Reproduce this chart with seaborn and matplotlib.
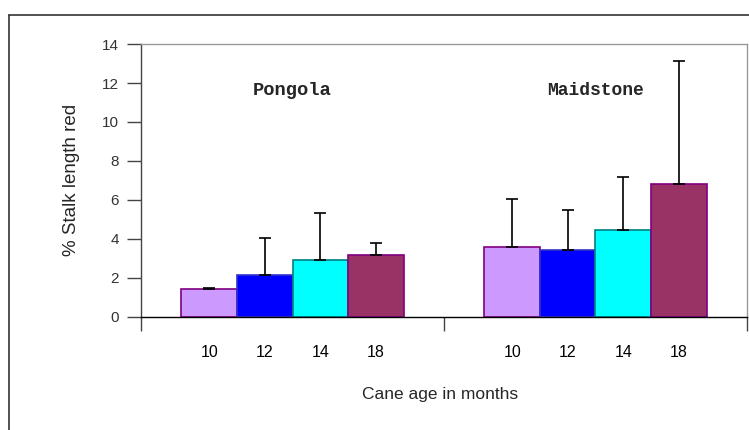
"""
Stalk length reduction by cane age, Pongola vs Maidstone.
"""

import pandas as pd
import matplotlib.pyplot as plt
import seaborn as sns
from matplotlib import font_manager
from matplotlib.lines import Line2D

sites = ["Pongola", "Maidstone"]
ages = ["10", "12", "14", "18"]
pongola_vals = [1.44, 2.14, 2.93, 3.17]
pongola_err = [0.05, 1.90, 2.39, 0.63]
maidstone_vals = [3.56, 3.42, 4.45, 6.83]
maidstone_err = [2.47, 2.06, 2.71, 6.31]

fill_colors = ["#CC99FF", "#0000FF", "#00FFFF", "#993366"]
edge_colors = ["#800080", "#3333CC", "#008080", "#800080"]


def pick_font(*names):
    installed = {f.name for f in font_manager.fontManager.ttflist}
    for name in names:
        if name in installed:
            return name
    return "DejaVu Sans"


narrow = pick_font("Liberation Sans Narrow", "Liberation Sans")
sans = pick_font("Liberation Sans", "DejaVu Sans")
mono = pick_font("Liberation Mono", "DejaVu Sans Mono")

df = pd.DataFrame({
    "site": [s for s in sites for _ in ages],
    "age": ages * 2,
    "value": pongola_vals + maidstone_vals,
    "err": pongola_err + maidstone_err,
})

sns.set_style("white")
fig = plt.figure(figsize=(7.49, 4.30), dpi=100)
ax = fig.add_axes([0.1883, 0.2635, 0.809, 0.634])

sns.barplot(data=df, x="site", y="value", hue="age", order=sites,
            hue_order=ages, palette=fill_colors, width=0.733,
            errorbar=None, legend=False, saturation=1, ax=ax)

# edge colours and upper error bars, positioned from the drawn bars
bars = [p for p in ax.patches if p.get_height() > 0]
bars.sort(key=lambda p: p.get_x())
for i, p in enumerate(bars):
    k = i % 4
    p.set_edgecolor(edge_colors[k])
    p.set_linewidth(1.2)
    cx = p.get_x() + p.get_width() / 2
    row = df.iloc[(i // 4) * 4 + k]
    ax.errorbar(cx, row["value"], yerr=[[0], [row["err"]]], fmt="none",
                ecolor="black", elinewidth=1.2, capsize=4, capthick=1.2,
                zorder=3)
    ax.text(cx, -0.105, row["age"], transform=ax.get_xaxis_transform(),
            ha="center", va="top", fontsize=11.5, family=narrow,
            color="black")

ax.set_xlim(-0.5, 1.5)
ax.set_ylim(0, 14)
ax.set_yticks(range(0, 15, 2))
ax.set_xticks([-0.5, 0.5, 1.5])
ax.set_xticklabels(["", "", ""])
ax.tick_params(axis="x", direction="out", length=10, width=1, color="#444444",
               bottom=True)
ax.tick_params(axis="y", direction="out", length=10, width=1, color="#444444",
               labelsize=11, labelcolor="#333333", pad=6, left=True)
for lab in ax.get_yticklabels():
    lab.set_family(narrow)

ax.spines["left"].set_color("#444444")
ax.spines["bottom"].set_color("black")
ax.spines["top"].set_color("#999999")
ax.spines["right"].set_color("#999999")
for s in ax.spines.values():
    s.set_linewidth(1)

ax.set_xlabel("")
ax.set_ylabel("% Stalk length red", fontsize=13.5, family=sans, labelpad=16)
fig.text(0.587, 0.082, "Cane age in months", ha="center", va="center",
         fontsize=12.5, family=narrow)

ax.text(0, 11.6, "Pongola", ha="center", va="center", fontsize=13.5,
        family=mono, weight="bold")
ax.text(1, 11.6, "Maidstone", ha="center", va="center", fontsize=13,
        family=mono, weight="bold")

# outer chart border (left and top edges visible)
fig.add_artist(Line2D([0.012, 0.012], [0, 0.965], color="#333333", lw=1.2))
fig.add_artist(Line2D([0.012, 1.0], [0.965, 0.965], color="#333333", lw=1.2))

fig.savefig("out.png", dpi=100)
